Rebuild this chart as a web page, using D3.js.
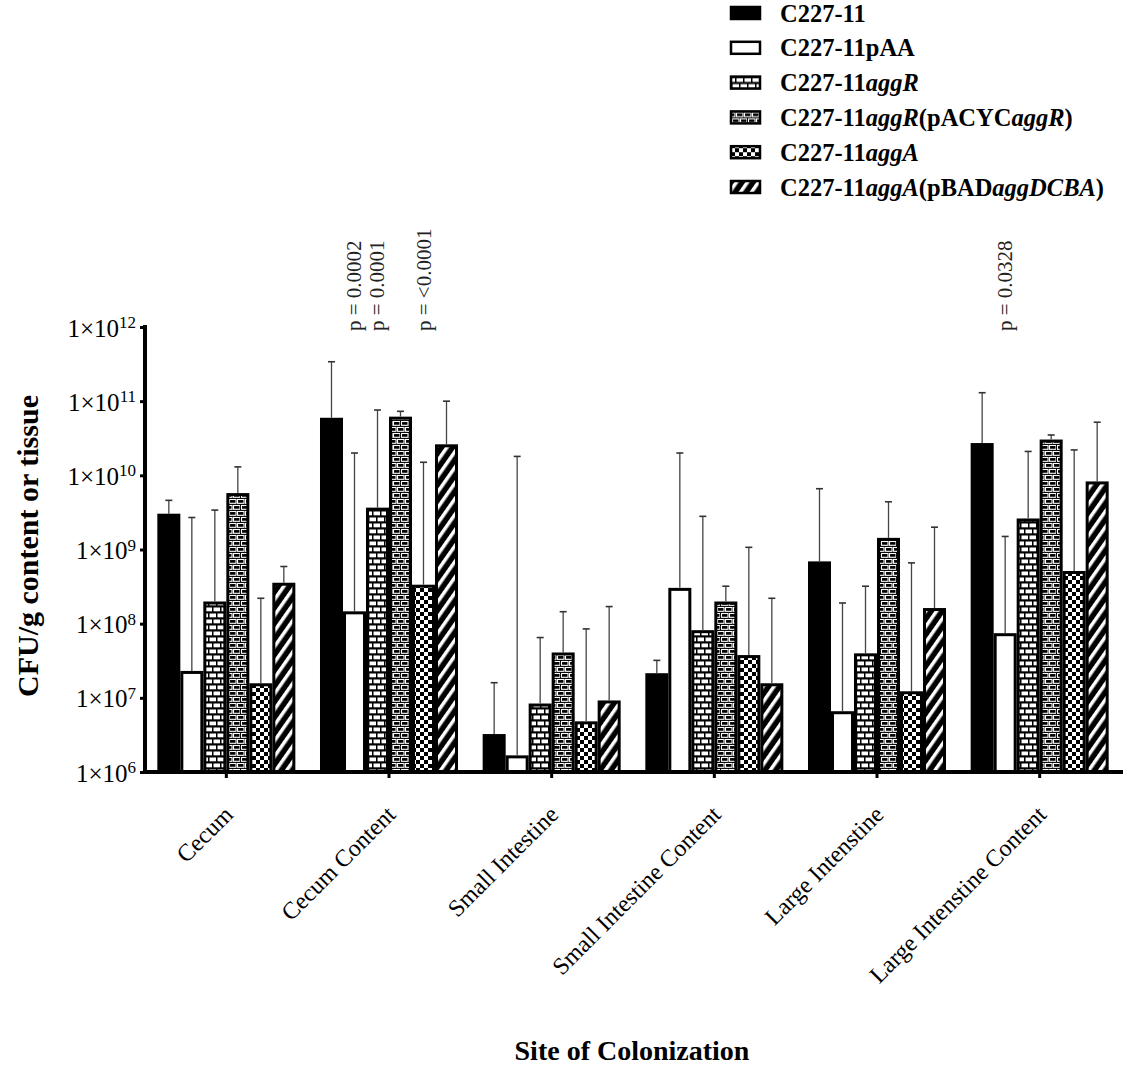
<!DOCTYPE html>
<html>
<head>
<meta charset="utf-8">
<script src="https://cdn.jsdelivr.net/npm/d3@7"></script>
<style>
  body { margin: 0; background: #fff; }
  svg { display: block; }
  text { font-family: "Liberation Serif", "Times New Roman", serif; }
</style>
</head>
<body>
<div id="vis"></div>
<script>
// ---- data ----
var sites = ['Cecum', 'Cecum Content', 'Small Intestine', 'Small Intestine Content', 'Large Intenstine', 'Large Intenstine Content'];
var strains = ['C227-11', 'C227-11pAA', 'C227-11aggR', 'C227-11aggR(pACYCaggR)', 'C227-11aggA', 'C227-11aggA(pBADaggDCBA)'];

// mean CFU per strain, one entry per site
var wt       = [2.9e9, 5.7e10, 3.1e6, 2.05e7, 6.6e8, 2.6e10];
var pAA      = [2.2e7, 1.4e8, 1.6e6, 2.9e8, 6.3e6, 7.1e7];
var aggR     = [1.9e8, 3.5e9, 8.0e6, 7.8e7, 3.8e7, 2.5e9];
var aggRc    = [5.5e9, 5.9e10, 3.9e7, 1.9e8, 1.37e9, 2.9e10];
var aggA     = [1.5e7, 3.2e8, 4.6e6, 3.6e7, 1.17e7, 4.9e8];
var aggAc    = [3.4e8, 2.5e10, 8.8e6, 1.5e7, 1.55e8, 7.9e9];

// top of error bar
var wtErr    = [4.6e9, 3.4e11, 1.6e7, 3.2e7, 6.6e9, 1.3e11];
var pAAErr   = [2.7e9, 2.0e10, 1.8e10, 2.0e10, 1.9e8, 1.5e9];
var aggRErr  = [3.4e9, 7.6e10, 6.5e7, 2.8e9, 3.2e8, 2.1e10];
var aggRcErr = [1.3e10, 7.3e10, 1.45e8, 3.2e8, 4.4e9, 3.5e10];
var aggAErr  = [2.2e8, 1.5e10, 8.5e7, 1.07e9, 6.6e8, 2.2e10];
var aggAcErr = [5.9e8, 1.0e11, 1.7e8, 2.2e8, 2.0e9, 5.2e10];

var yTicks = [1e6, 1e7, 1e8, 1e9, 1e10, 1e11, 1e12];

// p-value annotations
var pSites   = ['Cecum Content', 'Cecum Content', 'Cecum Content', 'Large Intenstine Content'];
var pStrains = ['C227-11pAA', 'C227-11aggR', 'C227-11aggA', 'C227-11pAA'];
var pLabels  = ['p = 0.0002', 'p = 0.0001', 'p = <0.0001', 'p = 0.0328'];

var means = [wt, pAA, aggR, aggRc, aggA, aggAc];
var errs = [wtErr, pAAErr, aggRErr, aggRcErr, aggAErr, aggAcErr];

var rows = [];
sites.forEach(function(s, i) {
    strains.forEach(function(st, j) {
        rows.push({ site: s, strain: st, k: j, v: means[j][i], e: errs[j][i] });
    });
});

var W = 1131, H = 1067;
var svg = d3.select('#vis').append('svg')
    .attr('width', W)
    .attr('height', H);

// ---- fill patterns ----
var defs = svg.append('defs');
var fills = ['#000', '#fff', 'url(#brickW)', 'url(#brickB)', 'url(#checker)', 'url(#stripe)'];
var bricks = [[1.5, 1.5], [9.5, 1.5], [-2.5, 7.5], [5.5, 7.5], [13.5, 7.5]];

// white bricks, black mortar
var p1 = defs.append('pattern').attr('id', 'brickW').attr('patternUnits', 'userSpaceOnUse')
    .attr('width', 16).attr('height', 12);
p1.append('rect').attr('width', 16).attr('height', 12).attr('fill', '#000');
bricks.forEach(function(b) {
    p1.append('rect').attr('x', b[0]).attr('y', b[1]).attr('width', 6.5).attr('height', 3.8).attr('fill', '#fff');
});

// black bricks outlined in white
var p2 = defs.append('pattern').attr('id', 'brickB').attr('patternUnits', 'userSpaceOnUse')
    .attr('width', 16).attr('height', 12);
p2.append('rect').attr('width', 16).attr('height', 12).attr('fill', '#000');
bricks.forEach(function(b) {
    p2.append('rect').attr('x', b[0]).attr('y', b[1]).attr('width', 6.5).attr('height', 3.8)
        .attr('fill', 'none').attr('stroke', '#fff').attr('stroke-width', 1.1);
});

// checkerboard
var p3 = defs.append('pattern').attr('id', 'checker').attr('patternUnits', 'userSpaceOnUse')
    .attr('width', 8).attr('height', 8);
p3.append('rect').attr('width', 8).attr('height', 8).attr('fill', '#fff');
p3.append('rect').attr('width', 4).attr('height', 4).attr('fill', '#000');
p3.append('rect').attr('x', 4).attr('y', 4).attr('width', 4).attr('height', 4).attr('fill', '#000');

// white diagonal stripes on black
var p4 = defs.append('pattern').attr('id', 'stripe').attr('patternUnits', 'userSpaceOnUse')
    .attr('width', 9).attr('height', 9).attr('patternTransform', 'rotate(35)');
p4.append('rect').attr('width', 9).attr('height', 9).attr('fill', '#000');
p4.append('rect').attr('x', 0).attr('width', 3.5).attr('height', 9).attr('fill', '#fff');

// ---- scales ----
var x0 = d3.scaleBand().domain(sites).range([145, 1121]).paddingInner(0.17).paddingOuter(0.085);
var x1 = d3.scaleBand().domain(strains).range([0, x0.bandwidth()]).paddingInner(0.13);
var y = d3.scaleLog().domain([1e6, 1e12]).range([772, 327]);

// ---- bars ----
var bar = svg.append('g').selectAll('g.bar').data(rows).enter().append('g').attr('class', 'bar');

bar.append('rect')
    .attr('x', function(d) { return x0(d.site) + x1(d.strain); })
    .attr('y', function(d) { return y(d.v); })
    .attr('width', x1.bandwidth())
    .attr('height', function(d) { return y(1e6) - y(d.v); })
    .attr('fill', function(d) { return fills[d.k]; })
    .attr('stroke', '#000')
    .attr('stroke-width', 3);

// error bars
bar.append('line')
    .attr('x1', function(d) { return x0(d.site) + x1(d.strain) + x1.bandwidth() / 2; })
    .attr('x2', function(d) { return x0(d.site) + x1(d.strain) + x1.bandwidth() / 2; })
    .attr('y1', function(d) { return y(d.v) - 1.5; })
    .attr('y2', function(d) { return y(d.e); })
    .attr('stroke', '#444').attr('stroke-width', 1.3);
bar.append('line')
    .attr('x1', function(d) { return x0(d.site) + x1(d.strain) + x1.bandwidth() / 2 - 3.5; })
    .attr('x2', function(d) { return x0(d.site) + x1(d.strain) + x1.bandwidth() / 2 + 3.5; })
    .attr('y1', function(d) { return y(d.e); })
    .attr('y2', function(d) { return y(d.e); })
    .attr('stroke', '#333').attr('stroke-width', 1.6);

// ---- axes ----
var yAxis = d3.axisLeft(y).tickValues(yTicks).tickSize(5).tickFormat('');
var gy = svg.append('g').attr('transform', 'translate(145,0)').call(yAxis);
gy.select('.domain').attr('stroke', '#000').attr('stroke-width', 4).attr('d', 'M0,325V774');
gy.selectAll('.tick line').attr('stroke', '#000').attr('stroke-width', 3);

gy.selectAll('.tick').append('text')
    .attr('x', -9).attr('y', 0).attr('dy', '0.36em')
    .attr('text-anchor', 'end')
    .attr('fill', '#000')
    .style('font-size', '25px')
    .each(function(d) {
        var t = d3.select(this);
        t.append('tspan').text('1\u00d710');
        t.append('tspan').attr('dy', '-0.5em').style('font-size', '17px').text(Math.round(Math.log10(d)));
    });

var xAxis = d3.axisBottom(x0).tickSize(6).tickFormat('');
var gx = svg.append('g').attr('transform', 'translate(0,772)').call(xAxis);
gx.select('.domain').attr('stroke', '#000').attr('stroke-width', 4).attr('d', 'M143,0H1123');
gx.selectAll('.tick line').attr('stroke', '#000').attr('stroke-width', 3);

gx.selectAll('.tick').append('text')
    .attr('text-anchor', 'end')
    .attr('fill', '#000')
    .attr('transform', 'translate(8,44) rotate(-45)')
    .style('font-size', '24px')
    .text(function(d) { return d; });

// ---- axis titles ----
svg.append('text')
    .attr('x', 632).attr('y', 1060)
    .attr('text-anchor', 'middle')
    .style('font-size', '28px').style('font-weight', 'bold')
    .text('Site of Colonization');

svg.append('text')
    .attr('transform', 'translate(38,546) rotate(-90)')
    .attr('text-anchor', 'middle')
    .style('font-size', '30px').style('font-weight', 'bold')
    .text('CFU/g content or tissue');

// ---- p-values ----
pLabels.forEach(function(lab, i) {
    var cx = x0(pSites[i]) + x1(pStrains[i]) + x1.bandwidth() / 2;
    svg.append('text')
        .attr('transform', 'translate(' + (cx + 7) + ',331) rotate(-90)')
        .attr('text-anchor', 'start')
        .attr('fill', '#222')
        .style('font-size', '21px')
        .text(lab);
});

// ---- legend ----
var legendParts = [
    [['C227-11', 0]],
    [['C227-11pAA', 0]],
    [['C227-11', 0], ['aggR', 1]],
    [['C227-11', 0], ['aggR', 1], ['(pACYC', 0], ['aggR', 1], [')', 0]],
    [['C227-11', 0], ['aggA', 1]],
    [['C227-11', 0], ['aggA', 1], ['(pBAD', 0], ['aggDCBA', 1], [')', 0]]
];
var lg = svg.append('g').selectAll('g').data(strains).enter().append('g')
    .attr('transform', function(d, i) { return 'translate(731,' + (13 + i * 34.8) + ')'; });
lg.append('rect')
    .attr('x', 0).attr('y', -6).attr('width', 29).attr('height', 12)
    .attr('fill', function(d, i) { return fills[i]; })
    .attr('stroke', '#000').attr('stroke-width', 2.5);
lg.append('text')
    .attr('x', 49).attr('y', 8.5)
    .style('font-size', '24.5px').style('font-weight', 'bold')
    .each(function(d, i) {
        var t = d3.select(this);
        legendParts[i].forEach(function(p) {
            t.append('tspan').style('font-style', p[1] ? 'italic' : 'normal').text(p[0]);
        });
    });
</script>
</body>
</html>
